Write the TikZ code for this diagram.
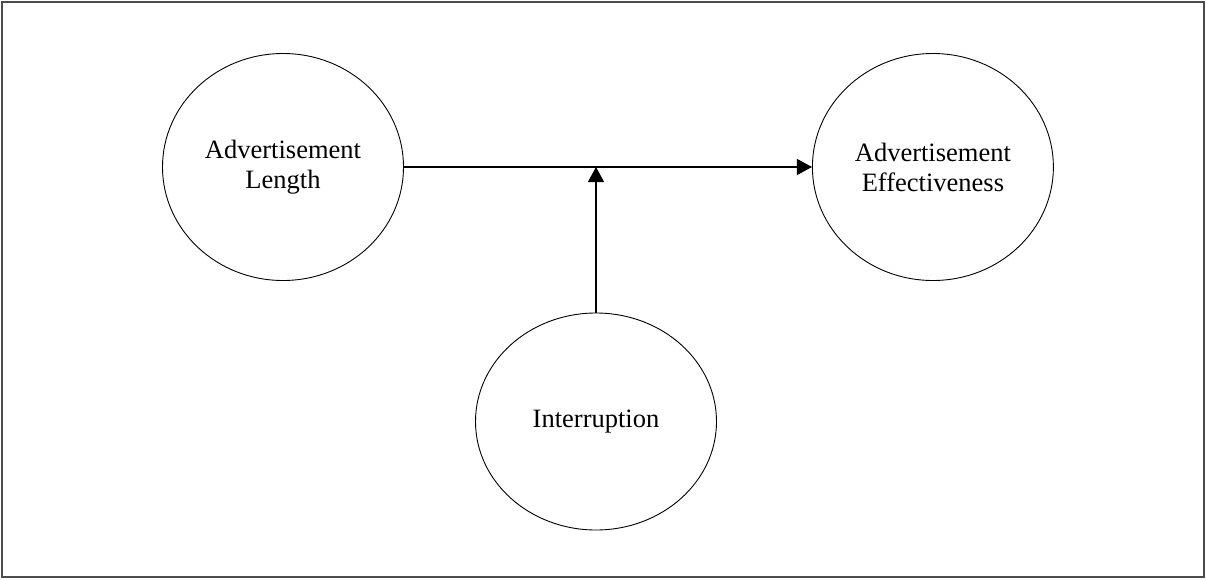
\documentclass[tikz,border=0pt]{standalone}
\usepackage{fontspec}
\setmainfont{Liberation Serif}
\usepackage{tikz}
\usetikzlibrary{shapes.geometric, arrows.meta, positioning}
\tikzstyle{var} = [ellipse, draw, line width=0.9pt, minimum width=241pt, minimum height=227pt, inner sep=0pt, align=center, font=\fontsize{26.5}{30}\selectfont]
\tikzstyle{arrow} = [line width=1.1pt,-{Triangle[length=15pt,width=16pt]}]

\begin{document}
\begin{tikzpicture}[x=1pt,y=-1pt]
    \useasboundingbox (0,0) rectangle (1206,579);
    \draw[black!70, line width=1.5pt] (2,2) rectangle (1204,577);
    \node[var] (len) at (283,167) {Advertisement\\Length};
    \node[var, right=408pt of len] (eff) {Advertisement\\Effectiveness};
    \node[var, minimum height=217pt] (intr) at (596,421.5) {Interruption};
    \draw[arrow] (len) -- (eff);
    \draw[arrow] (intr) -- (intr |- len);
\end{tikzpicture}
\end{document}
